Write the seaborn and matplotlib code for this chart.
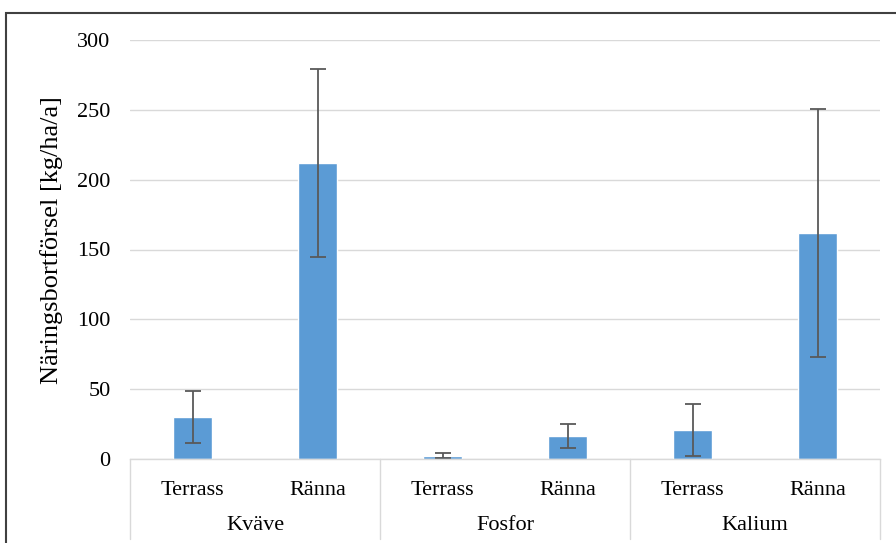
import matplotlib
matplotlib.use("Agg")
import matplotlib.pyplot as plt
import matplotlib.transforms as mtransforms
from matplotlib.patches import Rectangle
from matplotlib.lines import Line2D
import seaborn as sns
import pandas as pd

groups = ["Kväve", "Fosfor", "Kalium"]
subcats = ["Terrass", "Ränna"]
values = [30.3, 212.0, 2.4, 16.5, 20.7, 162.0]
errors = [18.6, 67.5, 1.9, 8.6, 18.9, 88.8]

sns.set_theme(style="white")
plt.rcParams["font.family"] = ["Liberation Serif", "DejaVu Serif"]

keys = [f"{g}|{s}" for g in groups for s in subcats]
df = pd.DataFrame({"key": keys, "value": values, "err": errors})

fig = plt.figure(figsize=(8.96, 5.43), dpi=100)
ax = fig.add_axes([130/896, 1-459/543, 750/896, 419/543])

sns.barplot(data=df, x="key", y="value", order=keys, color="#5B9BD5",
            width=0.31, saturation=1, ax=ax, errorbar=None, zorder=3)

xs = [p.get_x() + p.get_width()/2 for p in ax.patches]
hs = [p.get_height() for p in ax.patches]
ax.errorbar(xs, hs, yerr=df["err"], fmt="none", ecolor="#595959",
            elinewidth=1.3, capsize=6, capthick=1.3, zorder=4)

ax.set_xlim(-0.5, len(keys)-0.5)
ax.set_ylim(0, 300)
ax.set_yticks([0, 50, 100, 150, 200, 250, 300])
ax.grid(axis="y", color="#D9D9D9", linewidth=1.0, zorder=0)
ax.set_axisbelow(True)
for s in ["top", "left", "right"]:
    ax.spines[s].set_visible(False)
ax.spines["bottom"].set_color("#D9D9D9")
ax.spines["bottom"].set_linewidth(1.0)
ax.spines["bottom"].set_zorder(5)

ax.tick_params(axis="y", length=0, pad=14, labelsize=16, labelcolor="#000000")
ax.tick_params(axis="x", length=0, pad=16, labelsize=16, labelcolor="#000000")
ax.set_xticks(range(len(keys)))
ax.set_xticklabels([k.split("|")[1] for k in keys])
ax.set_xlabel("")
ax.set_ylabel("Näringsbortförsel [kg/ha/a]", fontsize=19, color="#000000")
ax.yaxis.set_label_coords(-0.090, (459 - 240) / 419)

trans = mtransforms.blended_transform_factory(ax.transData, ax.transAxes)
px = 1/419
for i, g in enumerate(groups):
    ax.text(2*i + 0.5, -66*px, g, transform=trans, ha="center", va="center",
            fontsize=16, color="#000000")
for b in [-0.5, 1.5, 3.5, 5.5]:
    ax.add_line(Line2D([b, b], [0, -80*px], transform=trans, color="#D9D9D9",
                       linewidth=1.0, clip_on=False))

fig.patches.append(Rectangle((6/896, -0.1), 1.2, 1 - 13/543 + 0.1,
                             transform=fig.transFigure, fill=False,
                             edgecolor="#404040", linewidth=1.5, clip_on=False))

fig.savefig("out.png", dpi=100)
